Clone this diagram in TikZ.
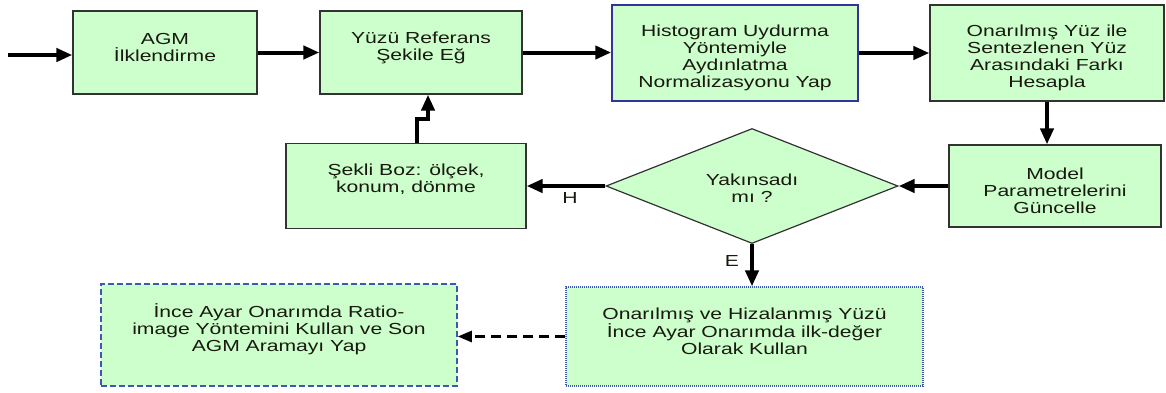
\documentclass[tikz,border=0pt]{standalone}
\usepackage{fontspec}
\setmainfont{Liberation Sans}[FakeStretch=1.32]
\usetikzlibrary{shapes.geometric,arrows.meta}

\definecolor{boxfill}{RGB}{204,255,204}
\definecolor{boxline}{RGB}{50,50,50}
\definecolor{navyline}{RGB}{51,51,153}
\definecolor{blueline}{RGB}{60,90,180}
\definecolor{txtcol}{RGB}{25,25,15}

\tikzset{
  block/.style={draw=boxline, line width=1.2pt, fill=boxfill, rectangle, inner sep=0pt},
  txt/.style={align=center, text=txtcol, font=\fontsize{16}{17}\selectfont, inner sep=0pt},
  lbl/.style={text=txtcol, font=\fontsize{16}{17}\selectfont, inner sep=0pt},
  arr/.style={line width=4pt, -{Triangle[length=16pt,width=13pt]}},
  darr/.style={line width=2.5pt, dash pattern=on 10pt off 6pt, -{Triangle[length=14pt,width=11pt]}},
}

\begin{document}
\begin{tikzpicture}[x=1pt, y=-1pt]
  \useasboundingbox (0,0) rectangle (1166,392);

  % top row
  \node[block, minimum width=184pt, minimum height=83pt] (agm) at (165,52.5) {};
  \node[block, minimum width=202pt, minimum height=83pt] (yuzu) at (421,52.5) {};
  \node[block, draw=navyline, line width=1.5pt, minimum width=246pt, minimum height=96pt] (hist) at (735,53) {};
  \node[block, minimum width=234pt, minimum height=96pt] (onar) at (1047,53) {};

  % middle row
  \node[block, minimum width=212pt, minimum height=82pt] (model) at (1055,186) {};
  \node[diamond, draw=boxline, line width=1.2pt, fill=boxfill, inner sep=0pt,
        minimum width=292pt, minimum height=115pt] (dia) at (752,186) {};
  \node[block, minimum width=240pt, minimum height=85pt] (sekli) at (406,186) {};

  % bottom row
  \node[block, draw=blueline, line width=1.2pt, dash pattern=on 1pt off 1pt,
        minimum width=357pt, minimum height=99pt] (ov) at (744.5,336.5) {};
  \node[block, draw=blueline, line width=1.5pt, dash pattern=on 6pt off 3pt,
        minimum width=356pt, minimum height=102pt] (ince) at (279,335) {};

  % texts
  \node[txt] (agm-t) at (165,47.5) {AGM\\İlklendirme};
  \node[txt] (yuzu-t) at (421,47.5) {Yüzü Referans\\Şekile Eğ};
  \node[txt] (hist-t) at (735,58) {Histogram Uydurma\\Yöntemiyle\\Aydınlatma\\Normalizasyonu Yap};
  \node[txt] (onar-t) at (1047,58) {Onarılmış Yüz ile\\Sentezlenen Yüz\\Arasındaki Farkı\\Hesapla};
  \node[txt] (model-t) at (1055,190.5) {Model\\Parametrelerini\\Güncelle};
  \node[txt] (dia-t) at (752,188) {Yakınsadı\\mı ?};
  \node[txt] (sekli-t) at (406,179.5) {Şekli Boz: ölçek,\\konum, dönme};
  \node[txt] (ov-t) at (744.5,331) {Onarılmış ve Hizalanmış Yüzü\\İnce Ayar Onarımda ilk-değer\\Olarak Kullan};
  \node[txt] (ince-t) at (279,329) {İnce Ayar Onarımda Ratio-\\image Yöntemini Kullan ve Son\\AGM Aramayı Yap};

  \coordinate (start) at (8,55);

  \draw[arr] (start) -- (start -| agm.west);
  \draw[arr] (agm) -- (yuzu);
  \draw[arr] (yuzu.east) -- (yuzu.east -| hist.west);
  \draw[arr] (hist) -- (onar);
  \draw[arr] (onar.south) -- (onar.south |- model.north);
  \draw[arr] (model) -- (dia);
  \draw[arr] (dia.west) -- (sekli.east) node[lbl, pos=0.45, below=4pt] (lblH) {H};
  \draw[arr] ([xshift=11pt]sekli.north) -- ++(0,-24) -| ([xshift=7pt]yuzu.south);
  \draw[arr] (dia.south) -- (dia.south |- ov.north) node[lbl, pos=0.41, left=11pt] (lblE) {E};
  \draw[darr] (ov.west) -- (ov.west -| ince.east);
\end{tikzpicture}
\end{document}
